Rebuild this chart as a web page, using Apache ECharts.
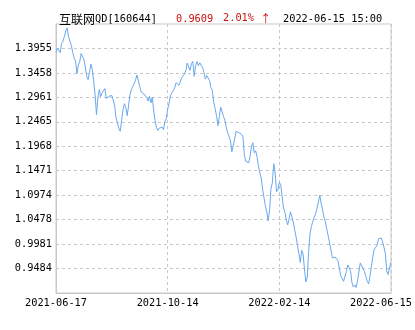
<!DOCTYPE html>
<html>
<head>
<meta charset="utf-8">
<script src="https://cdn.jsdelivr.net/npm/echarts@6/dist/echarts.min.js"></script>
<style>html,body{margin:0;padding:0;background:#fff}#c{width:415px;height:330px}</style>
</head>
<body>
<div id="c"></div>
<script>
var xLabels = ['2021-06-17', '2021-10-14', '2022-02-14', '2022-06-15'];
var yTicks = [0.9484, 0.9981, 1.0478, 1.0974, 1.1471, 1.1968, 1.2465, 1.2961, 1.3458, 1.3955];
var yMin = 0.8987, yMax = 1.4452;
var navValues = [
1.3887,1.3958,1.3933,1.3872,1.4055,1.4106,1.4198,1.4310,1.4371,1.4192,
1.4157,1.4015,1.3872,1.3760,1.3699,1.3445,1.3618,1.3689,1.3852,1.3842,
1.3730,1.3577,1.3394,1.3323,1.3475,1.3638,1.3526,1.3282,1.3017,1.2610,
1.2956,1.3119,1.2977,1.3052,1.3017,1.3140,1.2942,1.2971,1.2981,1.2991,
1.3001,1.2964,1.2794,1.2549,1.2448,1.2336,1.2274,1.2488,1.2712,1.2834,
1.2753,1.2590,1.2794,1.3017,1.3119,1.3190,1.3241,1.3317,1.3414,1.3404,
1.3180,1.3072,1.3052,1.3032,1.3007,1.2956,1.2885,1.2983,1.2848,1.2967,
1.2682,1.2488,1.2350,1.2291,1.2336,1.2321,1.2356,1.2305,1.2474,1.2523,
1.2722,1.2840,1.3003,1.3052,1.3078,1.3150,1.3262,1.3288,1.3207,1.3274,
1.3359,1.3398,1.3433,1.3502,1.3659,1.3642,1.3512,1.3648,1.3693,1.3390,
1.3602,1.3689,1.3604,1.3663,1.3638,1.3567,1.3465,1.3333,1.3404,1.3414,
1.3302,1.3160,1.3099,1.2855,1.2732,1.2590,1.2386,1.2570,1.2763,1.2753,
1.2570,1.2498,1.2346,1.2244,1.2274,1.2081,1.1857,1.1888,1.2122,1.2272,
1.2299,1.2244,1.2213,1.2211,1.2152,1.1776,1.1660,1.1660,1.1633,1.1755,
1.1959,1.2040,1.1837,1.1878,1.1755,1.1572,1.1430,1.1328,1.1094,1.0921,
1.0758,1.0636,1.0453,1.0677,1.1104,1.1226,1.1613,1.1430,1.1043,1.1084,
1.1236,1.1186,1.0947,1.0717,1.0626,1.0473,1.0371,1.0494,1.0636,1.0616,
1.0432,1.0270,1.0127,0.9954,0.9781,0.9608,0.9856,0.9781,0.9476,0.9211,
0.9303,0.9832,1.0198,1.0341,1.0443,1.0528,1.0595,1.0707,1.0707,1.0972,
1.0799,1.0677,1.0524,1.0432,1.0280,1.0148,1.0005,0.9852,0.9700,0.9710,
0.9716,0.9714,0.9639,0.9486,0.9337,0.9282,0.9225,0.9193,0.9421,0.9557,
0.9521,0.9445,0.9201,0.9109,0.9150,0.9099,0.9232,0.9415,0.9598,0.9608,
0.9484,0.9423,0.9405,0.9221,0.9171,0.9344,0.9537,0.9730,0.9873,0.9858,
0.9954,1.0088,1.0052,1.0107,1.0025,0.9913,0.9781,0.9415,0.9364,0.9517,
0.9609
];
var titleCn = '互联网';
var titleCode = 'QD[160644]';
var titlePrice = '0.9609';
var titleChange = '2.01%';
var titleArrow = '↑';
var titleTime = '2022-06-15 15:00';

var mono = "'DejaVu Sans Mono', 'Noto Sans CJK SC', monospace";
var fs = 10.3;
var lastIdx = navValues.length - 1;
var seriesData = navValues.map(function (v, i) { return [i, v]; });

var chart = echarts.init(document.getElementById('c'), null, {renderer: 'canvas'});
chart.setOption({
  animation: false,
  backgroundColor: '#fff',
  title: [
    {text: '{cn|' + titleCn + '}{m|' + titleCode + '}', left: 54, top: 8,
     textStyle: {fontWeight: 'normal', color: '#000',
                 rich: {cn: {fontFamily: "'Noto Sans CJK SC'", fontSize: 12, fontWeight: 'normal', color: '#000'},
                        m: {fontFamily: mono, fontSize: fs, fontWeight: 'normal', color: '#000'}}}},
    {text: titlePrice, left: 171, top: 9, textStyle: {fontFamily: mono, fontSize: fs, fontWeight: 'normal', color: '#cc1111'}},
    {text: '{m|' + titleChange + ' }{a|' + titleArrow + '}', left: 218, top: 8,
     textStyle: {fontWeight: 'normal', color: '#cc1111',
                 rich: {m: {fontFamily: mono, fontSize: fs, fontWeight: 'normal', color: '#cc1111'},
                        a: {fontFamily: "'Noto Sans CJK SC'", fontSize: 11, fontWeight: 'normal', color: '#cc1111'}}}},
    {text: titleTime, left: 278, top: 9, textStyle: {fontFamily: mono, fontSize: fs, fontWeight: 'normal', color: '#000'}}
  ],
  grid: {left: 56, right: 23, top: 24, bottom: 37, show: true, borderColor: '#c8c8c8', borderWidth: 1},
  xAxis: {
    type: 'value', min: 0, max: lastIdx, interval: lastIdx / 3,
    axisLine: {show: true, lineStyle: {color: '#c8c8c8'}},
    axisTick: {show: false},
    splitLine: {show: true, lineStyle: {color: '#c8c8c8', type: [3, 3]}},
    axisLabel: {
      fontFamily: mono, fontSize: fs, color: '#000', margin: 5, showMinLabel: true, showMaxLabel: true,
      formatter: function (v) {
        var k = Math.round(v / (lastIdx / 3));
        if (k === 3) return '{last|' + xLabels[k] + '}';
        return xLabels[k];
      },
      rich: {last: {fontFamily: mono, fontSize: fs, color: '#000', padding: [0, 20, 0, 0]}}
    }
  },
  yAxis: {
    type: 'value', min: yMin, max: yMax,
    axisLine: {show: true, lineStyle: {color: '#c8c8c8'}},
    axisTick: {show: false, customValues: yTicks},
    splitLine: {show: true, lineStyle: {color: '#c8c8c8', type: [3, 3]}},
    axisLabel: {
      customValues: yTicks, fontFamily: mono, fontSize: fs, color: '#000', margin: 4,
      formatter: function (v) { return v.toFixed(4); }
    }
  },
  series: [{
    type: 'line', data: seriesData, showSymbol: false, symbol: 'none',
    lineStyle: {color: '#6aa8ee', width: 1}
  }]
});
</script>
</body>
</html>
